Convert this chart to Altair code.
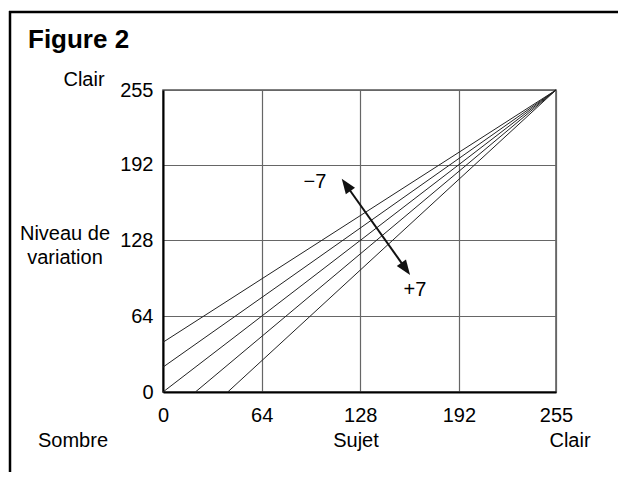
import altair as alt
import pandas as pd

FONT = "Liberation Sans"

# Axis ticks
tick_values = [0, 64, 128, 192, 255]

# Five response lines, each from a start point to (255, 255)
line_names = ["-7", "-3.5", "0", "+3.5", "+7"]
start_x = [0, 0, 0, 21, 42]
start_y = [42, 21, 0, 0, 0]
end_x = [255, 255, 255, 255, 255]
end_y = [255, 255, 255, 255, 255]

# Double-headed arrow (data coordinates of the two heads)
arrow_x = [118.8, 157.5]
arrow_y = [174.8, 104.0]
arrow_angle = [324.6, 144.6]

# Arrow end labels
label_text = ["\u22127", "+7"]
label_x = [98.6, 163.5]
label_y = [177, 86]

rows = []
for n, x0, y0, x1, y1 in zip(line_names, start_x, start_y, end_x, end_y):
    rows.append({"line": n, "x": x0, "y": y0, "o": 0})
    rows.append({"line": n, "x": x1, "y": y1, "o": 1})
lines_df = pd.DataFrame(rows)

arrow_df = pd.DataFrame({"x": arrow_x, "y": arrow_y, "angle": arrow_angle, "o": [0, 1]})
labels_df = pd.DataFrame({"x": label_x, "y": label_y, "t": label_text})
one = pd.DataFrame({"a": [0]})

xscale = alt.Scale(domain=[0, 255], nice=False, zero=False)
yscale = alt.Scale(domain=[0, 255], nice=False, zero=False)

xaxis = alt.Axis(values=tick_values, title=None, ticks=False, labelPadding=13,
                 labelFontSize=20, labelFont=FONT, labelColor="black",
                 domainColor="black", domainWidth=2, gridColor="#666", gridWidth=1.2,
                 labelFlush=False)
yaxis = alt.Axis(values=tick_values, title=None, ticks=False, labelPadding=10,
                 labelFontSize=20, labelFont=FONT, labelColor="black",
                 domainColor="black", domainWidth=2, gridColor="#666", gridWidth=1.2,
                 labelFlush=False)

lines = alt.Chart(lines_df).mark_line(color="#222", strokeWidth=1).encode(
    x=alt.X("x:Q", scale=xscale, axis=xaxis),
    y=alt.Y("y:Q", scale=yscale, axis=yaxis),
    detail="line:N",
    order="o:Q",
)

shaft = alt.Chart(arrow_df).mark_line(color="#111", strokeWidth=2).encode(
    x=alt.X("x:Q", scale=xscale),
    y=alt.Y("y:Q", scale=yscale),
    order="o:Q",
)

heads = alt.Chart(arrow_df).mark_point(
    shape="M0,-1L-0.75,1L0.75,1Z", filled=True, color="#111", opacity=1, size=225
).encode(
    x=alt.X("x:Q", scale=xscale),
    y=alt.Y("y:Q", scale=yscale),
    angle=alt.Angle("angle:Q", scale=None),
)

arrow_labels = alt.Chart(labels_df).mark_text(
    font=FONT, fontSize=20, color="black", align="center", baseline="middle"
).encode(
    x=alt.X("x:Q", scale=xscale),
    y=alt.Y("y:Q", scale=yscale),
    text="t:N",
)

def label(txt, x, y, size=20, weight="normal", align="center"):
    return alt.Chart(one).mark_text(
        font=FONT, fontSize=size, fontWeight=weight, color="black",
        align=align, baseline="alphabetic"
    ).encode(x=alt.value(x), y=alt.value(y), text=alt.value(txt))

frame_top = alt.Chart(one).mark_rule(color="black", strokeWidth=2.5).encode(
    x=alt.value(-154), x2=alt.value(520), y=alt.value(-78)
)
frame_left = alt.Chart(one).mark_rule(color="black", strokeWidth=2.5).encode(
    x=alt.value(-153), y=alt.value(-79), y2=alt.value(420)
)

chart = alt.layer(
    lines,
    shaft,
    heads,
    arrow_labels,
    frame_top,
    frame_left,
    label("Figure 2", -135, -42, size=26, weight="bold", align="left"),
    label("Clair", -79, -4),
    label("Niveau de", -98, 150),
    label("variation", -98, 174),
    label("Sombre", -90, 357),
    label("Sujet", 193, 357),
    label("Clair", 407, 357),
).properties(
    width=393,
    height=302,
    autosize=alt.AutoSizeParams(type="none"),
    padding={"left": 155, "top": 82, "right": 62, "bottom": 80},
).configure_view(
    stroke="#555", strokeWidth=1.5
)

chart.save("out.html", embed_options={"renderer": "svg", "actions": False})
